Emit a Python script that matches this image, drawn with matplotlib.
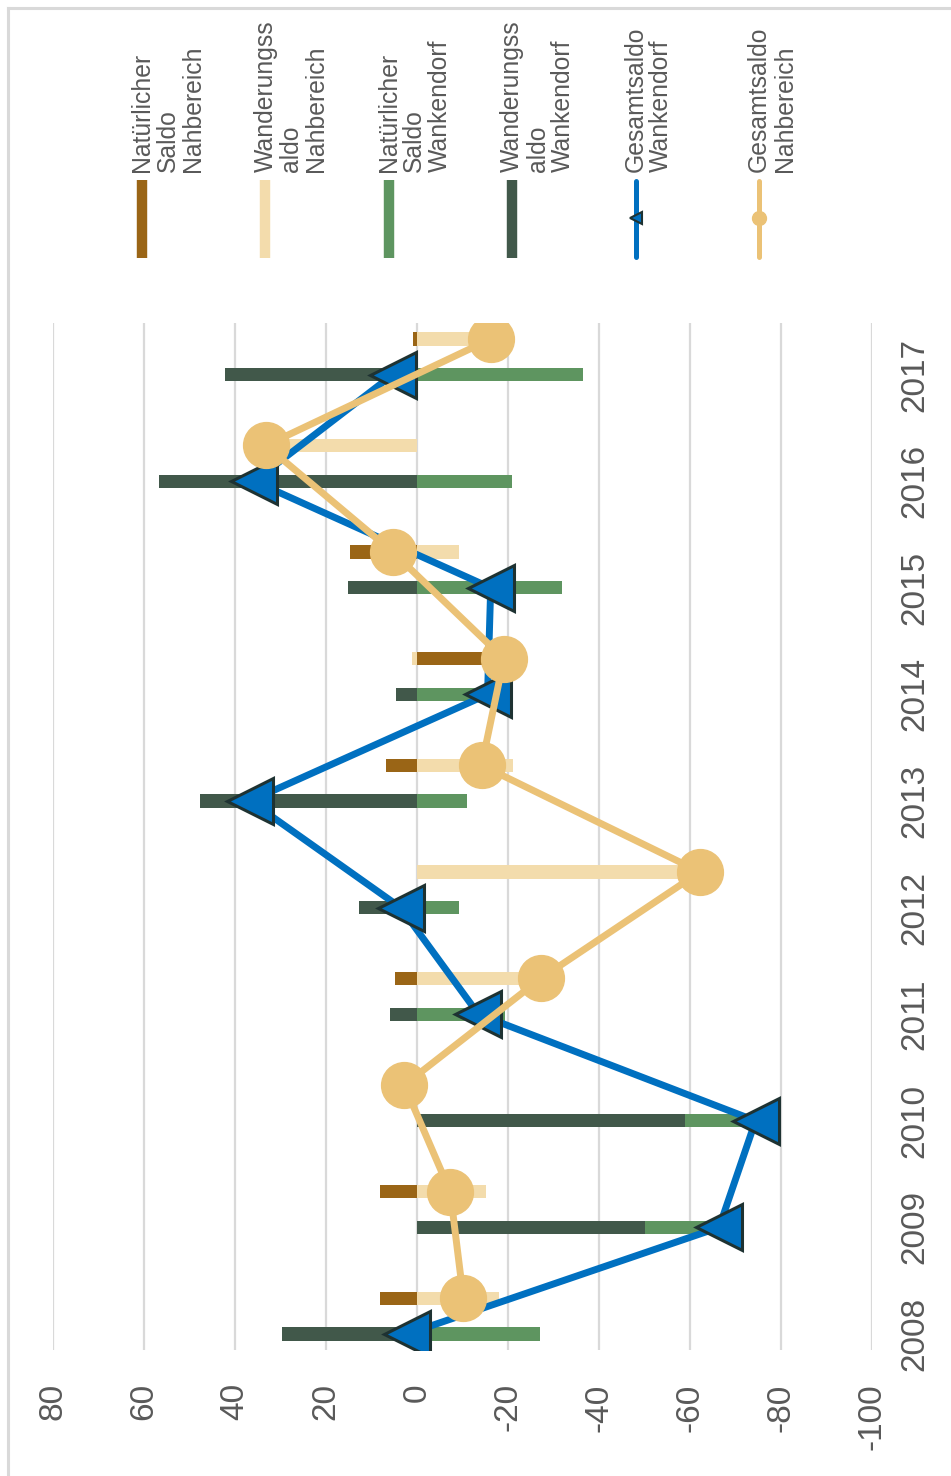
import numpy as np
import matplotlib
matplotlib.use("Agg")
from matplotlib import pyplot as plt
from matplotlib.lines import Line2D

plt.rcParams['font.family'] = ['Liberation Sans', 'DejaVu Sans']

# data
years = ["2008", "2009", "2010", "2011", "2012", "2013", "2014", "2015", "2016", "2017"]
nat_nah = [8.1, 8.1, 1.5, 4.8, 0.0, 6.8, -20.0, 14.8, 0.0, 0.8]
wan_nah = [-18.0, -15.2, 1.3, -32.0, -62.2, -21.0, 1.0, -9.2, 33.5, -17.0]
nat_wan = [-27.1, -16.4, -15.6, -19.4, -9.2, -10.9, -20.1, -31.8, -20.9, -36.4]
wan_wan = [29.6, -50.0, -58.8, 5.9, 12.7, 47.6, 4.6, 15.2, 56.8, 42.1]
ges_wan = [2.2, -66.4, -74.4, -13.5, 3.6, 36.7, -15.5, -16.2, 35.8, 5.3]
ges_nah = [-10.2, -7.3, 2.8, -27.2, -62.2, -14.2, -19.1, 5.3, 33.2, -16.3]

value_ticks = [80, 60, 40, 20, 0, -20, -40, -60, -80, -100]

c_brown = '#9A6516'
c_tan = '#F3DCAC'
c_green = '#5E9560'
c_dgreen = '#41584A'
c_blue = '#0070C0'
c_circle = '#EBC276'
c_edge = '#1E3232'
c_text = '#595959'
c_grid = '#D9D9D9'

W, H = 951, 1476
fig = plt.figure(figsize=(W / 100, H / 100), dpi=100)


def fx(x):
    return x / W


def fy(y):
    return 1 - y / H


ax = fig.add_axes([fx(53), fy(1350), fx(872) - fx(53), fy(323) - fy(1350)])

pos_w = np.arange(len(years))
pos_n = pos_w + 0.335
bar_h = 0.125


def stacked(ax, pos, series, colors):
    pos_base = np.zeros(len(pos))
    neg_base = np.zeros(len(pos))
    for vals, col in zip(series, colors):
        vals = np.array(vals)
        left = np.where(vals >= 0, pos_base, neg_base)
        ax.barh(pos, vals, left=left, height=bar_h, color=col, zorder=2)
        pos_base = pos_base + np.where(vals >= 0, vals, 0)
        neg_base = neg_base + np.where(vals < 0, vals, 0)


stacked(ax, pos_w, [wan_wan, nat_wan], [c_dgreen, c_green])
stacked(ax, pos_n, [nat_nah, wan_nah], [c_brown, c_tan])

ax.plot(ges_wan, pos_w, color=c_blue, lw=5, marker='<', ms=33,
        mfc=c_blue, mec=c_edge, mew=2.2, zorder=3)
ax.plot(ges_nah, pos_n, color=c_circle, lw=5, marker='o', ms=33,
        mfc=c_circle, mec=c_circle, zorder=4)

ax.set_xlim(80, -100)
ax.set_ylim(-0.15, 9.484)
ax.set_xticks(value_ticks)
ax.set_xticklabels([str(v) for v in value_ticks], rotation=90)
ax.set_yticks(pos_w)
ax.set_yticklabels(years, rotation=90, va='center')
ax.yaxis.tick_right()
ax.tick_params(axis='x', length=0, pad=24, labelsize=24, labelcolor=c_text)
ax.tick_params(axis='y', length=0, pad=20, labelsize=24, labelcolor=c_text)
ax.grid(axis='x', color=c_grid, lw=1.6, zorder=0)
ax.set_axisbelow(True)
for s in ax.spines.values():
    s.set_visible(False)

# legend, drawn by hand (rotated like the chart)
leg_labels = ["Natürlicher\nSaldo\nNahbereich", "Wanderungss\naldo\nNahbereich",
              "Natürlicher\nSaldo\nWankendorf", "Wanderungss\naldo\nWankendorf",
              "Gesamtsaldo\nWankendorf", "Gesamtsaldo\nNahbereich"]
leg_colors = [c_brown, c_tan, c_green, c_dgreen, c_blue, c_circle]
for k, (lab, col) in enumerate(zip(leg_labels, leg_colors)):
    xc = 142 + 123.4 * k
    if k < 4:
        fig.add_artist(Line2D([fx(xc), fx(xc)], [fy(180), fy(258)], color=col,
                              lw=7.5, solid_capstyle='butt'))
    else:
        fig.add_artist(Line2D([fx(xc), fx(xc)], [fy(181), fy(257)], color=col,
                              lw=3.6, solid_capstyle='round'))
        if k == 4:
            fig.add_artist(Line2D([fx(xc)], [fy(218)], marker='<', ms=9,
                                  mfc=col, mec=c_edge, mew=1.5))
        else:
            fig.add_artist(Line2D([fx(xc)], [fy(218)], marker='o', ms=10,
                                  mfc=col, mec=col))
    fig.text(fx(xc - 12), fy(172), lab, rotation=90, rotation_mode='anchor',
             ha='left', va='top', fontsize=17.8, color=c_text, linespacing=1.08)

# outer frame (only top and left edges are inside the picture)
fig.add_artist(Line2D([fx(8), 1], [fy(8), fy(8)], color=c_grid, lw=2.2))
fig.add_artist(Line2D([fx(8), fx(8)], [fy(8), 0], color=c_grid, lw=2.2))

fig.savefig("out.png", dpi=100)
